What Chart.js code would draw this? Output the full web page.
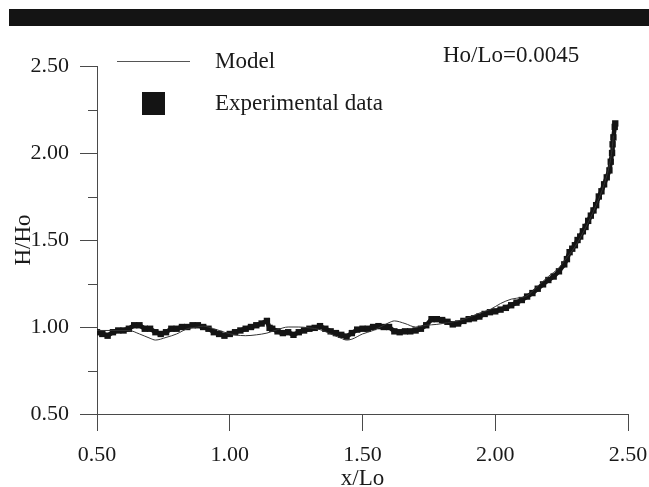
<!DOCTYPE html>
<html>
<head>
<meta charset="utf-8">
<script src="https://cdn.jsdelivr.net/npm/chart.js@4.4.1/dist/chart.umd.min.js"></script>
<style>
  html, body { margin: 0; padding: 0; background: #fff; }
  #wrap { position: relative; width: 649px; height: 487px; font-family: "Liberation Serif", "DejaVu Serif", serif; color: #1a1a1a; }
  #bar { position: absolute; left: 9px; top: 9px; width: 640px; height: 17px; background: #141414; }
  .txt { position: absolute; font-size: 23px; line-height: 23px; white-space: nowrap; }
  #legLine { position: absolute; left: 117px; top: 61px; width: 73px; height: 1px; background: #555; }
  #legBox { position: absolute; left: 142px; top: 92px; width: 23px; height: 23px; background: #141414; }
  canvas { position: absolute; left: 0; top: 0; }
</style>
</head>
<body>
<div id="wrap">
  <canvas id="chart" width="649" height="487"></canvas>
  <div id="bar"></div>
  <div id="legLine"></div>
  <div class="txt" style="left:215px;top:49px;">Model</div>
  <div id="legBox"></div>
  <div class="txt" style="left:215px;top:91px;">Experimental data</div>
  <div class="txt" style="left:443px;top:43px;">Ho/Lo=0.0045</div>
</div>
<script>
// values
const expX = [0.50, 0.52, 0.54, 0.56, 0.58, 0.60, 0.62, 0.64, 0.66, 0.68, 0.70, 0.72, 0.74, 0.76, 0.78, 0.80,
  0.82, 0.84, 0.86, 0.88, 0.90, 0.92, 0.94, 0.96, 0.98, 1.00, 1.02, 1.04, 1.06, 1.08, 1.10, 1.12, 1.14, 1.15,
  1.16, 1.18, 1.20, 1.22, 1.24, 1.26, 1.28, 1.30, 1.32, 1.34, 1.36, 1.38, 1.40, 1.42, 1.44, 1.46, 1.48, 1.50,
  1.52, 1.54, 1.56, 1.58, 1.60, 1.62, 1.64, 1.66, 1.68, 1.70, 1.72, 1.74, 1.76, 1.78, 1.80, 1.82, 1.84, 1.86,
  1.88, 1.90, 1.92, 1.94, 1.96, 1.98, 2.00, 2.02, 2.04, 2.06, 2.08, 2.10, 2.12, 2.14, 2.16, 2.18, 2.20, 2.22,
  2.24, 2.26, 2.27, 2.28, 2.29, 2.30, 2.31, 2.32, 2.33, 2.34, 2.35, 2.36, 2.37, 2.38, 2.39, 2.40, 2.41, 2.42,
  2.43, 2.435, 2.44, 2.442, 2.445, 2.45, 2.452];
const expY = [0.97, 0.96, 0.95, 0.97, 0.98, 0.98, 0.99, 1.01, 1.01, 0.99, 0.99, 0.97, 0.96, 0.97, 0.99, 0.99,
  1.00, 1.00, 1.01, 1.01, 1.00, 0.99, 0.97, 0.96, 0.95, 0.96, 0.97, 0.98, 0.99, 1.00, 1.01, 1.02, 1.035, 0.995,
  0.99, 0.975, 0.965, 0.97, 0.955, 0.97, 0.98, 0.99, 0.995, 1.005, 0.99, 0.975, 0.965, 0.955, 0.945, 0.965, 0.985, 0.99,
  0.99, 1.00, 1.005, 1.00, 1.00, 0.975, 0.97, 0.975, 0.975, 0.98, 0.99, 1.01, 1.045, 1.045, 1.04, 1.03, 1.015, 1.02,
  1.035, 1.045, 1.05, 1.06, 1.075, 1.085, 1.09, 1.10, 1.11, 1.125, 1.14, 1.155, 1.175, 1.195, 1.22, 1.245, 1.27, 1.29,
  1.32, 1.36, 1.39, 1.43, 1.45, 1.47, 1.50, 1.52, 1.55, 1.575, 1.61, 1.64, 1.67, 1.70, 1.75, 1.78, 1.82, 1.86,
  1.90, 1.95, 2.00, 2.05, 2.09, 2.15, 2.17];

const modelX = [0.50, 0.56, 0.62, 0.66, 0.70, 0.72, 0.76, 0.80, 0.84, 0.88, 0.90, 0.94, 0.98, 1.02, 1.06, 1.10,
  1.14, 1.18, 1.22, 1.26, 1.30, 1.34, 1.38, 1.42, 1.44, 1.46, 1.50, 1.54, 1.58, 1.60, 1.62, 1.66, 1.70, 1.74,
  1.78, 1.82, 1.86, 1.90, 1.94, 1.98, 2.02, 2.06, 2.10, 2.12, 2.16, 2.20, 2.24, 2.26, 2.30, 2.34, 2.38, 2.41,
  2.43, 2.44, 2.445];
const modelY = [0.98, 0.98, 0.98, 0.96, 0.935, 0.925, 0.94, 0.96, 0.99, 1.00, 1.005, 0.99, 0.97, 0.955, 0.95, 0.955,
  0.965, 0.985, 1.00, 1.00, 0.995, 0.985, 0.96, 0.935, 0.925, 0.93, 0.96, 0.98, 1.01, 1.025, 1.035, 1.02, 1.00, 1.01,
  1.015, 1.025, 1.035, 1.055, 1.08, 1.10, 1.135, 1.16, 1.17, 1.18, 1.235, 1.29, 1.34, 1.38, 1.46, 1.57, 1.70, 1.82,
  1.93, 2.02, 2.10];

const xTicks = [0.5, 1.0, 1.5, 2.0, 2.5];
const yTicks = [0.5, 1.0, 1.5, 2.0, 2.5];
const yMinor = [0.75, 1.25, 1.75, 2.25];

const axisColor = "#4a4a4a";
const tickFont = { family: "Liberation Serif", size: 22 };

function toPoints(xs, ys){
  return xs.map((x, i) => ({ x: x, y: ys[i] }));
}

const minorTicks = {
  id: "minorTicks",
  afterDraw(chart){
    const ctx = chart.ctx;
    const yScale = chart.scales.y;
    const left = chart.chartArea.left;
    ctx.save();
    ctx.strokeStyle = axisColor;
    ctx.lineWidth = 1;
    yMinor.forEach(v => {
      const py = Math.round(yScale.getPixelForValue(v)) + 0.5;
      ctx.beginPath();
      ctx.moveTo(left - 9, py);
      ctx.lineTo(left, py);
      ctx.stroke();
    });
    ctx.restore();
  }
};

new Chart(document.getElementById("chart"), {
  type: "scatter",
  data: {
    datasets: [{
      label: "Model",
      data: toPoints(modelX, modelY),
      showLine: true,
      borderColor: "#333",
      borderWidth: 1,
      pointRadius: 0,
      cubicInterpolationMode: "monotone",
      order: 1
    }, {
      label: "Experimental data",
      data: toPoints(expX, expY),
      showLine: true,
      borderColor: "#141414",
      borderWidth: 4.5,
      pointStyle: "rect",
      pointRadius: 4.5,
      pointBorderWidth: 0,
      pointBackgroundColor: "#141414",
      order: 2
    }]
  },
  options: {
    responsive: false,
    animation: false,
    devicePixelRatio: 1,
    layout: { padding: { top: 66, right: 21, left: 0, bottom: 0 } },
    plugins: {
      legend: { display: false },
      tooltip: { enabled: false }
    },
    scales: {
      x: {
        type: "linear",
        min: 0.5,
        max: 2.5,
        afterBuildTicks: s => { s.ticks = xTicks.map(v => ({ value: v })); },
        afterFit: s => { s.height = 73; s.paddingLeft = 0; s.paddingRight = 0; },
        ticks: {
          callback: v => Number(v).toFixed(2),
          font: tickFont,
          color: "#1a1a1a",
          padding: 11,
          maxRotation: 0,
          autoSkip: false
        },
        grid: { drawOnChartArea: false, drawTicks: true, tickLength: 17, color: axisColor, lineWidth: 1 },
        border: { display: true, color: axisColor, width: 1 },
        title: {
          display: true,
          text: "x/Lo",
          color: "#1a1a1a",
          font: { family: "Liberation Serif", size: 23 },
          padding: { top: 0, bottom: -6 }
        }
      },
      y: {
        type: "linear",
        min: 0.5,
        max: 2.5,
        afterBuildTicks: s => { s.ticks = yTicks.map(v => ({ value: v })); },
        afterFit: s => { s.width = 97; s.paddingTop = 0; s.paddingBottom = 0; },
        ticks: {
          callback: v => Number(v).toFixed(2),
          font: tickFont,
          color: "#1a1a1a",
          padding: 11
        },
        grid: { drawOnChartArea: false, drawTicks: true, tickLength: 17, color: axisColor, lineWidth: 1 },
        border: { display: true, color: axisColor, width: 1 },
        title: {
          display: true,
          text: "H/Ho",
          color: "#1a1a1a",
          font: { family: "Liberation Serif", size: 23 },
          padding: { top: 10, bottom: 0 }
        }
      }
    }
  },
  plugins: [minorTicks]
});
</script>
</body>
</html>
